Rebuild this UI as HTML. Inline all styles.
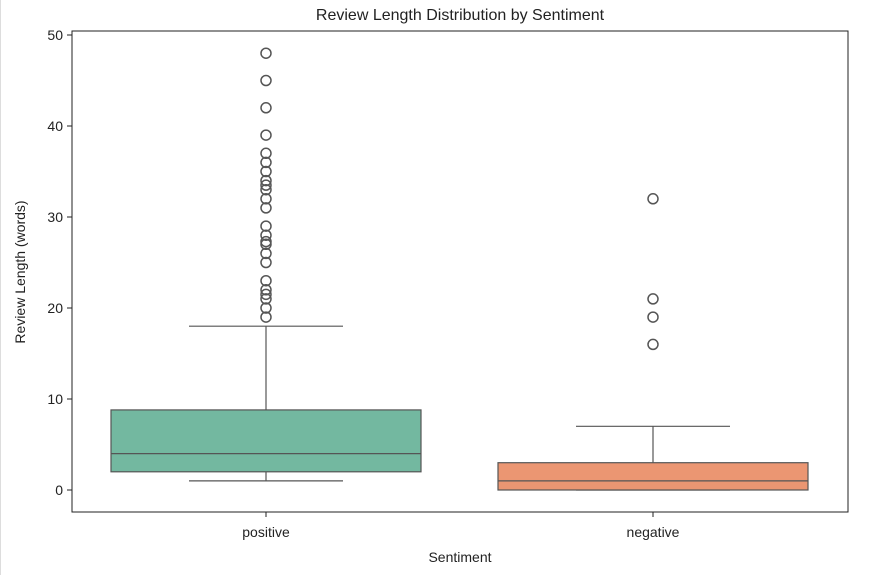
<!DOCTYPE html>
<html><head><meta charset="utf-8"><style>
body{margin:0;background:#fff;font-family:"Liberation Sans",sans-serif;}
</style></head><body>
<svg width="879" height="575" viewBox="0 0 879 575" xmlns="http://www.w3.org/2000/svg">
<rect width="879" height="575" fill="#fff"/>
<line x1="0.5" y1="0" x2="0.5" y2="575" stroke="#ddd"/>
<text x="460" y="20" font-size="16" text-anchor="middle" fill="#222">Review Length Distribution by Sentiment</text>
<g id="plot"></g>
<rect x="72" y="31" width="776" height="481" fill="none" stroke="#222" stroke-width="1"/>
<text x="460" y="562" font-size="14" text-anchor="middle" fill="#222">Sentiment</text>
<text transform="translate(25,272) rotate(-90)" font-size="14" text-anchor="middle" fill="#222">Review Length (words)</text>
</svg>
<script>
const categories=["positive","negative"];
const q1s=[2,0];
const medians=[4,1];
const q3s=[8.8,3];
const whiskLow=[1,0];
const whiskHigh=[18,7];
const outliers=[[19,20,21,21.5,22,23,25,26,27,27.3,28,29,31,32,33,33.5,34,35,36,37,39,42,45,48],[16,19,21,32]];
const colors=["#73b8a0","#eb9672"];
const yTicks=[0,10,20,30,40,50];
const g=document.getElementById('plot');
const NS="http://www.w3.org/2000/svg";
const y=v=>490-v*9.1;
const xc=i=>266+i*387;
function mk(t,a){const e=document.createElementNS(NS,t);for(const k in a)e.setAttribute(k,a[k]);g.appendChild(e);return e;}
yTicks.forEach(t=>{
 const l=mk('line',{x1:67,x2:72,y1:y(t),y2:y(t),stroke:'#222'});
 
 
 const tx=mk('text',{x:63,y:y(t)+5,'font-size':14,'text-anchor':'end',fill:'#222'});tx.textContent=t;
 
 
});
categories.forEach((c,i)=>{
 const x=xc(i),hw=155,s='#555';
 const tk=mk('line',{x1:x,x2:x,y1:512,y2:517,stroke:'#222'});
 
 
 const tl=mk('text',{x:x,y:537,'font-size':14,'text-anchor':'middle',fill:'#222'});tl.textContent=c;
 
 
 const w1=mk('line',{x1:x,x2:x,y1:y(q3s[i]),y2:y(whiskHigh[i]),stroke:s,'stroke-width':1.2});
 
 
 const w2=mk('line',{x1:x,x2:x,y1:y(q1s[i]),y2:y(whiskLow[i]),stroke:s,'stroke-width':1.2});
 
 
 [whiskHigh[i],whiskLow[i]].forEach(v=>{const cp=mk('line',{x1:x-77,x2:x+77,y1:y(v),y2:y(v),stroke:s,'stroke-width':1.2});
 
 });
 const b=mk('rect',{x:x-hw,y:y(q3s[i]),width:hw*2,height:y(q1s[i])-y(q3s[i]),fill:colors[i],stroke:s,'stroke-width':1.2});
 
 
 const m=mk('line',{x1:x-hw,x2:x+hw,y1:y(medians[i]),y2:y(medians[i]),stroke:s,'stroke-width':1.2});
 
 
 outliers[i].forEach(v=>{const o=mk('circle',{cx:x,cy:y(v),r:5,fill:'none',stroke:'#555','stroke-width':1.5});
 
 });
});
</script>
</body></html>
